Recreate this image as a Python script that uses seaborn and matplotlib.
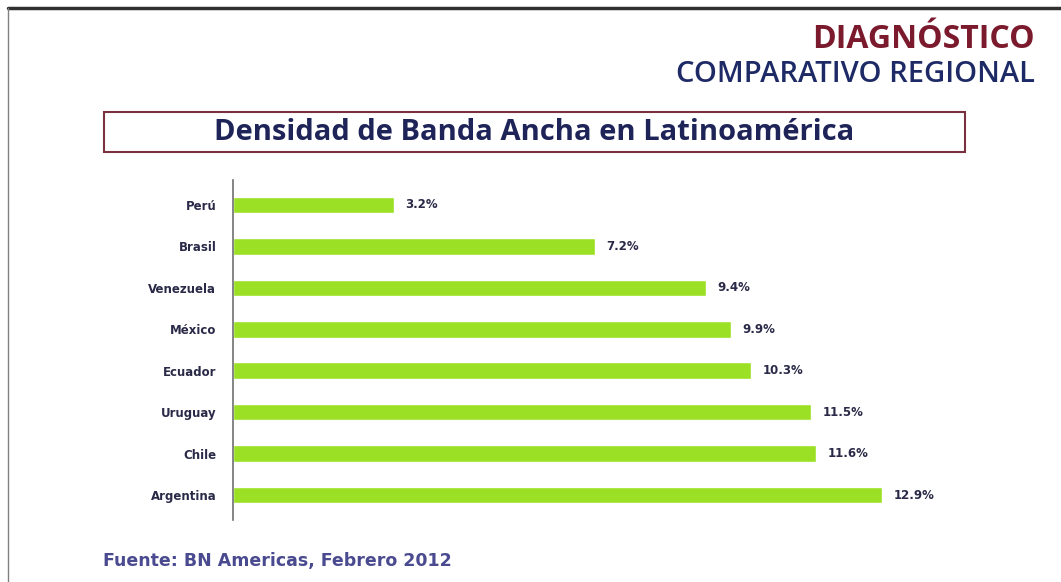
import matplotlib
matplotlib.use("Agg")
import matplotlib.pyplot as plt
import seaborn as sns
import pandas as pd
from matplotlib.patches import Rectangle
from matplotlib.lines import Line2D

countries = ["Perú", "Brasil", "Venezuela", "México", "Ecuador", "Uruguay", "Chile", "Argentina"]
values = [3.2, 7.2, 9.4, 9.9, 10.3, 11.5, 11.6, 12.9]
value_labels = ["3.2%", "7.2%", "9.4%", "9.9%", "10.3%", "11.5%", "11.6%", "12.9%"]

df = pd.DataFrame({"pais": countries, "densidad": values})

sns.set_theme(style="white")
plt.rcParams['font.family'] = ['DejaVu Sans']

W, H = 1061, 582
fig = plt.figure(figsize=(W / 100, H / 100), dpi=100)
fig.patch.set_facecolor("white")

ax = fig.add_axes([233 / W, 1 - 520 / H, (937 - 233) / W, (520 - 180) / H])
sns.barplot(data=df, x="densidad", y="pais", orient="h", color="#9be024",
            saturation=1, width=0.4, ax=ax, order=countries)
ax.set_xlim(0, 14)
ax.set_ylim(7.6, -0.6)
ax.set_xlabel("")
ax.set_ylabel("")
ax.set_xticks([])
for s in ["top", "right", "bottom"]:
    ax.spines[s].set_visible(False)
ax.spines["left"].set_color("#707070")
ax.spines["left"].set_linewidth(1.2)
ax.tick_params(axis="y", length=0, pad=12)
for lbl in ax.get_yticklabels():
    lbl.set_fontsize(8.5)
    lbl.set_fontweight("bold")
    lbl.set_color("#2a2a48")
for i, (v, t) in enumerate(zip(values, value_labels)):
    ax.text(v + 0.23, i, t, va="center", ha="left", fontsize=8.5,
            fontweight="bold", color="#2a2a48")

# outer frame
fig.add_artist(Line2D([8 / W, 1], [1 - 8 / H, 1 - 8 / H], color="#303030", lw=2.5))
fig.add_artist(Line2D([8 / W, 8 / W], [0, 1 - 8 / H], color="#808080", lw=1))

# header
fig.text(1035 / W, 1 - 40 / H, "DIAGNÓSTICO", ha="right", va="center",
         fontsize=23, fontweight="bold", color="#7a1a2c", family=["Open Sans", "DejaVu Sans"])
fig.text(1035 / W, 1 - 74 / H, "COMPARATIVO REGIONAL", ha="right", va="center",
         fontsize=21, fontweight="semibold", color="#1e2a66", family=["Open Sans", "DejaVu Sans"])

# title box
fig.add_artist(Rectangle((104 / W, 1 - 152 / H), (965 - 104) / W, 40 / H,
                         transform=fig.transFigure, fill=False,
                         edgecolor="#7a3040", lw=1.5))
fig.text(534 / W, 1 - 132 / H, "Densidad de Banda Ancha en Latinoamérica",
         ha="center", va="center", fontsize=21, fontweight="bold",
         color="#1e2458", family=["Open Sans", "DejaVu Sans"])

# source
fig.text(103 / W, 1 - 561 / H, "Fuente: BN Americas, Febrero 2012", ha="left",
         va="center", fontsize=12.5, fontweight="semibold", color="#4a4a90",
         family=["DejaVu Sans"])

fig.savefig("out.png", dpi=100, facecolor="white")
